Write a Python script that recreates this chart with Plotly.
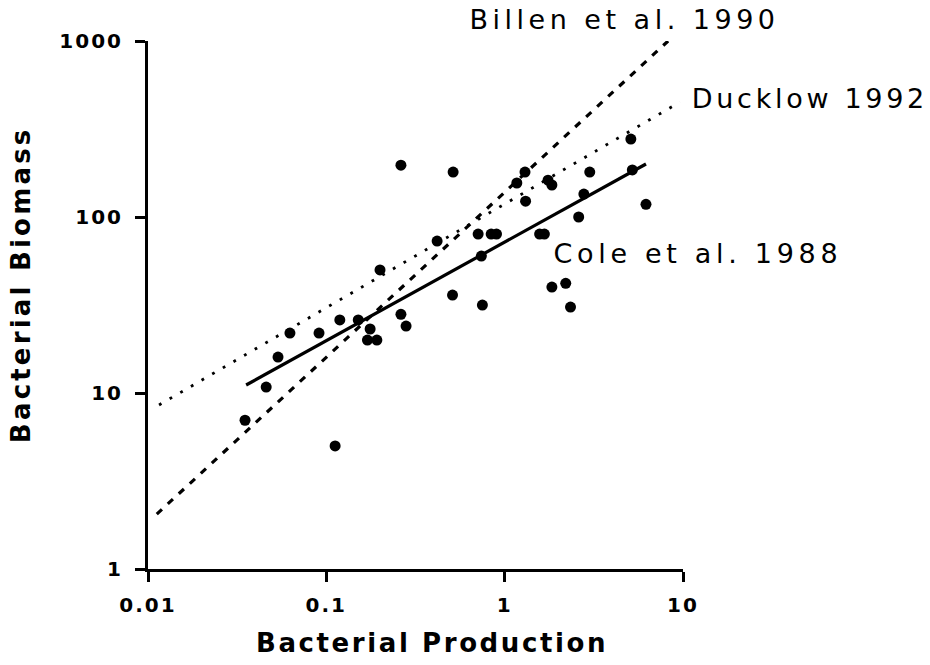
import plotly.graph_objects as go

# Observed data (Bacterial Production vs Bacterial Biomass)
prod = [0.035, 0.046, 0.0536, 0.0625, 0.091, 0.119, 0.112, 0.151, 0.176, 0.17,
        0.192, 0.2, 0.262, 0.262, 0.28, 0.418, 0.514, 0.51, 0.71, 0.74,
        0.75, 0.84, 0.9, 1.17, 1.3, 1.31, 1.57, 1.67, 1.75, 1.84,
        1.84, 2.2, 2.34, 2.6, 2.78, 3.0, 5.1, 5.2, 6.2]
biomass = [7.0, 10.8, 16.0, 21.9, 21.9, 26, 5.0, 26, 23.1, 20,
           20, 50, 197, 28, 24, 73, 180, 36, 80, 60,
           31.6, 80, 80, 156, 180, 123, 80, 80, 162, 152,
           40, 42, 30.8, 100, 135, 180, 277, 185, 118]

# Regression lines (endpoints)
cole_x = [0.0355, 6.2]
cole_y = [11.1, 200]
billen_x = [0.0112, 8.25]
billen_y = [2.05, 1000]
ducklow_x = [0.01153, 9.63]
ducklow_y = [8.55, 450]

y_ticks = [1, 10, 100, 1000]
y_ticktext = ["1", "10", "100", "1000"]
x_ticks = [0.01, 0.1, 1, 10]
x_ticktext = ["0.01", "0.1", "1", "10"]

fig = go.Figure()
fig.add_trace(go.Scatter(x=billen_x, y=billen_y, mode="lines",
                         line=dict(color="black", width=3.2, dash="7px,8px"),
                         showlegend=False, hoverinfo="skip"))
fig.add_trace(go.Scatter(x=ducklow_x, y=ducklow_y, mode="lines",
                         line=dict(color="black", width=2.8, dash="2.8px,9.5px"),
                         showlegend=False, hoverinfo="skip"))
fig.add_trace(go.Scatter(x=cole_x, y=cole_y, mode="lines",
                         line=dict(color="black", width=3.2),
                         showlegend=False, hoverinfo="skip"))
fig.add_trace(go.Scatter(x=prod, y=biomass, mode="markers",
                         marker=dict(color="black", size=11),
                         showlegend=False, cliponaxis=False))

tickfont = dict(family="DejaVu Sans", size=20, color="black", weight="bold")
fig.update_xaxes(type="log", range=[-2, 1], tickvals=x_ticks, ticktext=x_ticktext,
                 showline=True, linecolor="black", linewidth=3, ticks="outside",
                 ticklen=10, tickwidth=3, tickcolor="black", showgrid=False,
                 zeroline=False, tickfont=tickfont, mirror=False,
                 ticklabelstandoff=6)
fig.update_yaxes(type="log", range=[0, 3], tickvals=y_ticks, ticktext=y_ticktext,
                 showline=True, linecolor="black", linewidth=3, ticks="outside",
                 ticklen=10, tickwidth=3, tickcolor="black", showgrid=False,
                 zeroline=False, tickfont=tickfont, mirror=False,
                 ticklabelstandoff=8)

annfont = dict(family="DejaVu Sans", size=27, color="black")
titlefont = dict(family="DejaVu Sans", size=26, color="black", weight="bold")
annotations = [
    dict(text="Billen et al. 1990", x=0.8907, y=1.0398, font=annfont),
    dict(text="Ducklow 1992", x=1.238, y=0.892, font=annfont),
    dict(text="Cole et al. 1988", x=1.028, y=0.598, font=annfont),
    dict(text="Bacterial Production", x=0.531, y=-0.140, font=titlefont),
    dict(text="Bacterial Biomass", x=-0.2374, y=0.538, font=titlefont, textangle=-90),
]
for a in annotations:
    fig.add_annotation(xref="paper", yref="paper", showarrow=False,
                       xanchor="center", yanchor="middle", **a)

fig.update_layout(width=930, height=665, plot_bgcolor="white", paper_bgcolor="white",
                  margin=dict(l=148, r=247, t=41, b=96), showlegend=False)

post = """
document.body.style.margin = '0';
document.body.style.padding = '0';
var gd = document.getElementById('{plot_id}');
function applyLS(){
  gd.querySelectorAll('.xtick text, .ytick text').forEach(function(t){ t.style.letterSpacing='2px'; });
  gd.querySelectorAll('.annotation-text').forEach(function(t){
    var s = t.textContent;
    var ls = '4.5px';
    if (s.indexOf('Bacterial Production') === 0) { ls = '2.6px'; }
    else if (s.indexOf('Bacterial Biomass') === 0) { ls = '3.2px'; }
    else if (s.indexOf('Ducklow') === 0) { ls = '3.7px'; }
    else if (s.indexOf('Cole') === 0) { ls = '4.7px'; }
    t.style.letterSpacing = ls;
  });
}
applyLS();
gd.on('plotly_afterplot', applyLS);
"""
fig.write_html("out.html", post_script=post, config={"displayModeBar": False})
